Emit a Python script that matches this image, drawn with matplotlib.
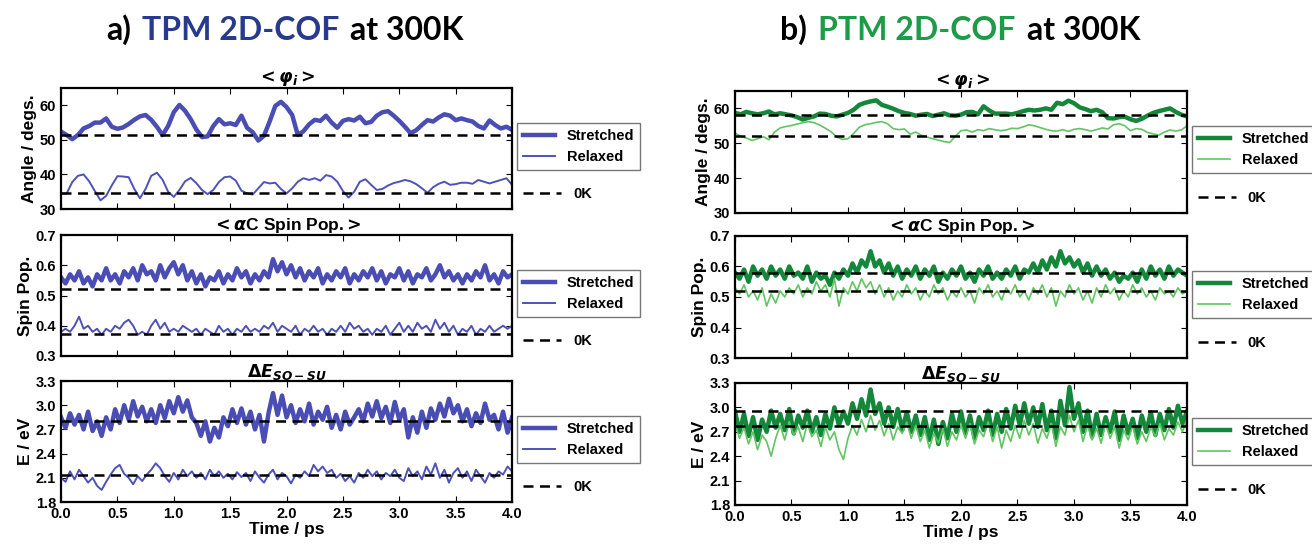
import matplotlib
matplotlib.use("Agg")
import matplotlib.pyplot as plt
import numpy as np
from matplotlib.offsetbox import TextArea, HPacker, AnchoredOffsetbox

# ---- data (angle series every 0.05 ps, the rest every 0.04 ps) ----
tpm_angle_stretched = [52.4, 51.4, 50.2, 51.4, 53.3, 54.0, 55.0, 55.0, 56.2, 53.8,
                       53.2, 53.6, 54.6, 55.8, 56.8, 57.2, 55.8, 53.8, 51.4, 54.0,
                       58.0, 60.1, 58.4, 56.0, 53.0, 50.8, 51.0, 54.0, 56.0, 54.5,
                       54.8, 54.3, 57.0, 53.5, 52.2, 49.8, 51.2, 55.3, 59.8, 61.0, 59.5,
                       57.2, 51.4, 52.5, 54.5, 55.8, 55.5, 57.0, 55.0, 53.5, 55.5,
                       56.0, 55.6, 56.7, 54.8, 55.2, 57.0, 58.0, 58.3, 57.0, 55.5,
                       53.8, 51.9, 52.8, 54.3, 55.7, 55.3, 56.5, 57.4, 57.0, 55.7,
                       56.2, 55.7, 55.3, 54.0, 53.3, 55.6, 54.3, 53.3, 53.8, 52.9]
tpm_angle_relaxed = [34.5, 34.5, 37.8, 39.6, 40.0, 38.0, 35.2, 32.5, 33.8, 36.8,
                     39.5, 39.4, 39.2, 35.8, 33.1, 35.8, 39.6, 40.5, 38.5, 35.0,
                     33.5, 35.5, 38.0, 39.0, 37.5, 35.5, 34.3, 35.5, 37.8, 39.2,
                     39.4, 38.2, 35.3, 34.5, 34.2, 36.0, 37.8, 37.4, 37.6, 35.8, 34.5,
                     36.0, 37.9, 38.9, 38.4, 38.9, 38.2, 39.8, 39.4, 37.9, 35.2,
                     33.3, 35.0, 37.9, 38.6, 37.0, 35.5, 35.8, 36.8, 37.5, 37.9,
                     38.4, 38.0, 37.2, 36.0, 34.7, 36.3, 37.3, 37.9, 37.0, 37.2,
                     37.6, 37.6, 37.3, 38.4, 37.9, 37.4, 37.9, 38.4, 38.9, 37.0]
tpm_spin_stretched = [0.56, 0.54, 0.57, 0.55, 0.58, 0.54, 0.56, 0.53, 0.57, 0.55,
                      0.59, 0.55, 0.57, 0.54, 0.58, 0.56, 0.59, 0.55, 0.60, 0.57,
                      0.58, 0.55, 0.60, 0.56, 0.59, 0.61, 0.57, 0.60, 0.55, 0.58,
                      0.54, 0.57, 0.53, 0.56, 0.55, 0.58, 0.54, 0.57, 0.55, 0.59,
                      0.56, 0.58, 0.54, 0.57, 0.55, 0.58, 0.56, 0.62, 0.58, 0.61,
                      0.57, 0.60, 0.56, 0.59, 0.55, 0.58, 0.56, 0.59, 0.54, 0.57,
                      0.55, 0.58, 0.56, 0.59, 0.54, 0.57, 0.55, 0.58, 0.56, 0.59,
                      0.55, 0.58, 0.54, 0.57, 0.56, 0.59, 0.55, 0.58, 0.54, 0.57,
                      0.56, 0.59, 0.55, 0.57, 0.60, 0.56, 0.58, 0.55, 0.57, 0.54,
                      0.57, 0.55, 0.58, 0.56, 0.60, 0.55, 0.57, 0.54, 0.58, 0.56, 0.57]
tpm_spin_relaxed = [0.38, 0.39, 0.38, 0.40, 0.43, 0.39, 0.40, 0.38, 0.39, 0.37,
                    0.39, 0.38, 0.40, 0.39, 0.41, 0.42, 0.40, 0.37, 0.38, 0.37,
                    0.40, 0.42, 0.39, 0.41, 0.38, 0.39, 0.38, 0.40, 0.39, 0.38,
                    0.39, 0.37, 0.39, 0.38, 0.37, 0.40, 0.38, 0.39, 0.37, 0.39,
                    0.38, 0.40, 0.38, 0.39, 0.38, 0.40, 0.39, 0.41, 0.38, 0.40,
                    0.39, 0.38, 0.40, 0.37, 0.39, 0.38, 0.40, 0.38, 0.39, 0.37,
                    0.39, 0.38, 0.40, 0.38, 0.41, 0.39, 0.40, 0.38, 0.39, 0.37,
                    0.39, 0.38, 0.40, 0.37, 0.39, 0.41, 0.38, 0.40, 0.38, 0.41,
                    0.39, 0.40, 0.38, 0.42, 0.39, 0.41, 0.38, 0.40, 0.37, 0.39,
                    0.38, 0.40, 0.37, 0.39, 0.38, 0.40, 0.38, 0.39, 0.40, 0.39, 0.40]
tpm_energy_stretched = [2.85, 2.72, 2.90, 2.76, 2.88, 2.70, 2.92, 2.68, 2.80, 2.62,
                        2.85, 2.70, 2.95, 2.78, 3.00, 2.82, 3.05, 2.86, 2.98, 2.80,
                        2.95, 2.78, 3.00, 2.84, 3.05, 2.90, 3.10, 2.92, 3.06, 2.85,
                        2.78, 2.62, 2.80, 2.55, 2.72, 2.60, 2.85, 2.74, 2.95, 2.78,
                        2.96, 2.76, 2.92, 2.70, 2.88, 2.55, 2.90, 3.15, 2.88, 3.12,
                        2.85, 3.00, 2.78, 2.95, 2.80, 3.02, 2.76, 2.92, 2.82, 2.98,
                        2.72, 2.88, 2.70, 2.92, 2.76, 2.85, 2.95, 2.80, 3.02, 2.86,
                        3.05, 2.84, 2.98, 2.78, 3.04, 2.82, 2.95, 2.60, 2.85, 2.66,
                        2.92, 2.72, 2.96, 2.82, 3.02, 2.86, 3.08, 2.90, 3.00, 2.80,
                        2.95, 2.74, 2.90, 2.78, 3.02, 2.82, 2.88, 2.70, 2.92, 2.66, 2.85]
tpm_energy_relaxed = [2.10, 2.05, 2.18, 2.08, 2.20, 2.12, 2.04, 2.10, 2.00, 1.95,
                      2.05, 2.14, 2.22, 2.26, 2.15, 2.10, 2.02, 2.12, 2.06, 2.14,
                      2.20, 2.28, 2.22, 2.12, 2.05, 2.16, 2.08, 2.20, 2.12, 2.18,
                      2.10, 2.16, 2.08, 2.20, 2.12, 2.18, 2.10, 2.15, 2.08, 2.17,
                      2.11, 2.16, 2.06, 2.18, 2.10, 2.04, 2.14, 2.20, 2.08, 2.16,
                      2.12, 2.03, 2.14, 2.10, 2.18, 2.12, 2.26, 2.18, 2.24, 2.16,
                      2.20, 2.10, 2.15, 2.06, 2.12, 2.04, 2.16, 2.10, 2.20, 2.12,
                      2.18, 2.08, 2.16, 2.12, 2.20, 2.10, 2.06, 2.22, 2.12, 2.18,
                      2.08, 2.24, 2.14, 2.28, 2.10, 2.20, 2.04, 2.16, 2.22, 2.10,
                      2.18, 2.06, 2.20, 2.12, 2.04, 2.16, 2.10, 2.18, 2.14, 2.24, 2.18]

ptm_angle_stretched = [58.7, 58.3, 59.0, 58.6, 58.3, 58.6, 59.1, 58.3, 58.6, 58.3,
                       58.0, 57.5, 56.8, 57.3, 57.7, 58.5, 58.4, 57.9, 57.7, 58.2,
                       58.7, 59.6, 61.0, 61.6, 62.0, 62.3, 61.0, 60.5, 59.9, 59.2,
                       58.7, 58.4, 57.9, 58.2, 58.4, 57.8, 58.2, 58.6, 58.0, 57.9, 58.2,
                       58.9, 59.0, 58.3, 60.6, 59.4, 58.5, 58.5, 58.5, 58.3, 58.7,
                       59.2, 59.6, 59.4, 59.6, 60.0, 59.6, 61.6, 61.2, 62.2, 61.5,
                       60.3, 59.8, 59.2, 59.6, 58.9, 57.2, 57.1, 57.5, 57.6, 56.9,
                       56.4, 57.0, 57.9, 58.7, 59.2, 59.6, 60.0, 59.0, 58.2, 57.7]
ptm_angle_relaxed = [52.9, 52.0, 51.5, 50.8, 51.3, 51.9, 51.0, 53.2, 54.4, 54.8,
                     55.1, 55.5, 55.9, 56.2, 55.9, 55.2, 54.3, 53.3, 51.8, 51.1,
                     51.3, 52.8, 54.6, 55.3, 55.6, 56.0, 56.2, 55.6, 54.2, 53.9,
                     54.1, 52.6, 53.2, 52.3, 51.8, 51.3, 50.9, 50.5, 50.2, 52.0, 53.6,
                     53.8, 53.2, 53.9, 53.6, 54.2, 53.9, 53.6, 53.8, 54.3, 54.2,
                     54.7, 55.3, 55.0, 54.5, 54.0, 53.6, 53.5, 53.9, 53.4, 54.0,
                     54.2, 53.9, 53.5, 53.9, 54.4, 54.1, 55.3, 55.6, 55.0, 53.6,
                     54.2, 54.0, 53.1, 52.7, 52.3, 53.2, 53.8, 53.5, 53.8, 55.0]
ptm_spin_stretched = [0.58, 0.56, 0.59, 0.55, 0.60, 0.57, 0.59, 0.56, 0.60, 0.57,
                      0.59, 0.56, 0.60, 0.57, 0.58, 0.56, 0.60, 0.55, 0.58, 0.56,
                      0.57, 0.54, 0.58, 0.56, 0.59, 0.57, 0.61, 0.58, 0.62, 0.60,
                      0.65, 0.60, 0.62, 0.58, 0.61, 0.57, 0.60, 0.56, 0.59, 0.57,
                      0.60, 0.56, 0.59, 0.57, 0.60, 0.55, 0.58, 0.56, 0.59, 0.57,
                      0.60, 0.56, 0.58, 0.55, 0.59, 0.57, 0.60, 0.56, 0.58, 0.56,
                      0.59, 0.57, 0.60, 0.56, 0.59, 0.58, 0.61, 0.58, 0.62, 0.59,
                      0.63, 0.60, 0.65, 0.61, 0.63, 0.60, 0.62, 0.58, 0.61, 0.57,
                      0.60, 0.57, 0.59, 0.56, 0.58, 0.55, 0.57, 0.56, 0.58, 0.55,
                      0.59, 0.56, 0.60, 0.57, 0.59, 0.56, 0.60, 0.57, 0.59, 0.58, 0.57]
ptm_spin_relaxed = [0.53, 0.51, 0.54, 0.50, 0.52, 0.49, 0.53, 0.47, 0.51, 0.48,
                    0.52, 0.50, 0.53, 0.51, 0.54, 0.50, 0.53, 0.51, 0.55, 0.52,
                    0.54, 0.50, 0.56, 0.47, 0.53, 0.51, 0.55, 0.52, 0.56, 0.53,
                    0.55, 0.51, 0.54, 0.50, 0.53, 0.49, 0.52, 0.50, 0.54, 0.51,
                    0.53, 0.49, 0.52, 0.50, 0.54, 0.51, 0.53, 0.49, 0.52, 0.50,
                    0.53, 0.50, 0.52, 0.48, 0.53, 0.51, 0.54, 0.50, 0.52, 0.49,
                    0.53, 0.51, 0.54, 0.50, 0.52, 0.49, 0.53, 0.51, 0.54, 0.50,
                    0.53, 0.47, 0.52, 0.50, 0.54, 0.51, 0.53, 0.49, 0.52, 0.48,
                    0.53, 0.50, 0.54, 0.51, 0.53, 0.49, 0.52, 0.50, 0.54, 0.51,
                    0.53, 0.50, 0.52, 0.49, 0.53, 0.51, 0.52, 0.50, 0.53, 0.51, 0.52]
ptm_energy_stretched = [2.95, 2.70, 2.92, 2.65, 2.88, 2.60, 2.85, 2.70, 2.96, 2.75,
                        2.92, 2.72, 2.98, 2.68, 2.90, 2.75, 2.96, 2.70, 2.88, 2.66,
                        2.92, 2.74, 3.00, 2.78, 2.95, 2.80, 3.05, 2.86, 3.10, 2.90,
                        3.22, 2.92, 3.05, 2.80, 3.00, 2.76, 2.98, 2.72, 2.94, 2.70,
                        2.90, 2.66, 2.88, 2.60, 2.85, 2.55, 2.82, 2.62, 2.92, 2.70,
                        2.95, 2.68, 2.90, 2.62, 2.88, 2.72, 2.96, 2.66, 2.92, 2.70,
                        2.98, 2.74, 3.02, 2.78, 3.05, 2.80, 3.00, 2.76, 3.04, 2.72,
                        2.96, 2.62, 3.08, 2.78, 3.25, 2.86, 3.05, 2.70, 2.96, 2.64,
                        2.92, 2.66, 2.88, 2.70, 2.95, 2.60, 2.90, 2.68, 2.86, 2.62,
                        2.90, 2.70, 2.94, 2.66, 2.92, 2.72, 2.98, 2.75, 3.02, 2.80, 2.95]
ptm_energy_relaxed = [2.80, 2.62, 2.75, 2.55, 2.70, 2.48, 2.66, 2.58, 2.40, 2.62,
                      2.78, 2.60, 2.82, 2.66, 2.76, 2.58, 2.80, 2.64, 2.72, 2.52,
                      2.76, 2.60, 2.70, 2.48, 2.36, 2.62, 2.78, 2.66, 2.85, 2.70,
                      2.90, 2.72, 2.84, 2.65, 2.80, 2.60, 2.76, 2.68, 2.82, 2.62,
                      2.78, 2.58, 2.72, 2.50, 2.68, 2.56, 2.74, 2.52, 2.70, 2.60,
                      2.78, 2.62, 2.80, 2.55, 2.72, 2.64, 2.82, 2.58, 2.76, 2.50,
                      2.72, 2.58, 2.78, 2.62, 2.84, 2.66, 2.80, 2.56, 2.74, 2.62,
                      2.80, 2.52, 2.76, 2.66, 2.90, 2.70, 2.84, 2.58, 2.78, 2.60,
                      2.74, 2.56, 2.80, 2.62, 2.76, 2.50, 2.72, 2.60, 2.78, 2.55,
                      2.70, 2.58, 2.76, 2.64, 2.80, 2.60, 2.74, 2.66, 2.82, 2.70, 2.85]

# 0K reference values (stretched, relaxed)
tpm_0k = {"angle": [51.5, 34.7], "spin": [0.521, 0.373], "energy": [2.80, 2.135]}
ptm_0k = {"angle": [58.0, 52.0], "spin": [0.578, 0.52], "energy": [2.96, 2.77]}

row_titles = [r"$<\varphi_i>$", r"$<\alpha$C Spin Pop.$>$", r"$\Delta E_{SO-SU}$"]
row_title_weights = ["normal", "bold", "bold"]
row_ylabels = ["Angle / degs.", "Spin Pop.", "E / eV"]
row_ylims = [(30, 65), (0.3, 0.7), (1.8, 3.3)]
row_yticks = [[30, 40, 50, 60], [0.3, 0.4, 0.5, 0.6, 0.7], [1.8, 2.1, 2.4, 2.7, 3.0, 3.3]]
x_ticks = [0.0, 0.5, 1.0, 1.5, 2.0, 2.5, 3.0, 3.5, 4.0]

plt.rcParams["font.family"] = ["Liberation Sans", "DejaVu Sans"]
plt.rcParams["font.weight"] = "bold"
plt.rcParams["axes.labelweight"] = "bold"
plt.rcParams["mathtext.fontset"] = "dejavusans"


def draw_column(fig, left, bottoms, width, height, series, zero_k, colors, widths):
    keys = ["angle", "spin", "energy"]
    for i, key in enumerate(keys):
        ax = fig.add_axes([left, bottoms[i], width, height])
        st, rl = series[key]
        ax.plot(np.linspace(0, 4, len(st)), st, color=colors[0], lw=widths[0], label="Stretched")
        ax.plot(np.linspace(0, 4, len(rl)), rl, color=colors[1], lw=widths[1], label="Relaxed")
        h0 = None
        for v in zero_k[key]:
            h0, = ax.plot([0, 4], [v, v], color="black", lw=1.8, ls="--", dashes=(4, 2.6))
        ax.set_xlim(0, 4)
        ax.set_ylim(*row_ylims[i])
        ax.set_yticks(row_yticks[i])
        if key == "energy":
            ax.set_yticklabels(["%.1f" % v for v in row_yticks[i]])
        ax.set_xticks(x_ticks)
        ax.tick_params(direction="in", top=True, right=True, labelsize=10.5, length=4, width=0.8)
        for sp in ax.spines.values():
            sp.set_linewidth(1.6)
        if i < 2:
            ax.set_xticklabels([])
        else:
            ax.set_xticklabels(["%.1f" % v for v in x_ticks])
            ax.set_xlabel("Time / ps", fontsize=12.5, labelpad=1)
        ax.set_ylabel(row_ylabels[i], fontsize=12.5, labelpad=2)
        ax.set_title(row_titles[i], fontsize=12.5, pad=3, fontweight=row_title_weights[i])
        leg = ax.legend(loc="upper left", bbox_to_anchor=(1.012, 0.71), fontsize=10.5,
                        frameon=True, fancybox=False, edgecolor="#555555",
                        handlelength=2.2, borderaxespad=0)
        leg.get_frame().set_linewidth(1.0)
        ax.add_artist(leg)
        ax.legend([h0], ["0K"], loc="center left", bbox_to_anchor=(1.012, 0.12),
                  fontsize=10.5, frameon=False, handlelength=2.6, borderaxespad=0)


def colored_title(fig, xc, y, parts):
    boxes = [TextArea(s, textprops=dict(color=c, fontsize=23, fontweight="bold",
                                         family=["Lato", "DejaVu Sans"]))
             for s, c in parts]
    pack = HPacker(children=boxes, align="baseline", pad=0, sep=8)
    anchored = AnchoredOffsetbox(loc="center", child=pack, pad=0, frameon=False,
                                 bbox_to_anchor=(xc, y), bbox_transform=fig.transFigure,
                                 borderpad=0)
    fig.add_artist(anchored)


def main():
    fig = plt.figure(figsize=(13.12, 5.44), dpi=100)

    tpm = {"angle": (tpm_angle_stretched, tpm_angle_relaxed),
           "spin": (tpm_spin_stretched, tpm_spin_relaxed),
           "energy": (tpm_energy_stretched, tpm_energy_relaxed)}
    ptm = {"angle": (ptm_angle_stretched, ptm_angle_relaxed),
           "spin": (ptm_spin_stretched, ptm_spin_relaxed),
           "energy": (ptm_energy_stretched, ptm_energy_relaxed)}

    draw_column(fig, 0.0465, [0.6158, 0.3456, 0.0772], 0.3438, 0.2224,
                tpm, tpm_0k, ("#4a4db3", "#4e52b8"), (3.2, 1.4))
    draw_column(fig, 0.5602, [0.6085, 0.3419, 0.0717], 0.3445, 0.2243,
                ptm, ptm_0k, ("#14873a", "#62c463"), (3.2, 1.2))

    colored_title(fig, 0.217, 0.945, [("a)", "black"), ("TPM 2D-COF", "#283a8c"), ("at 300K", "black")])
    colored_title(fig, 0.732, 0.945, [("b)", "black"), ("PTM 2D-COF", "#1e9b46"), ("at 300K", "black")])

    fig.savefig("out.png", dpi=100)


if __name__ == "__main__":
    main()
